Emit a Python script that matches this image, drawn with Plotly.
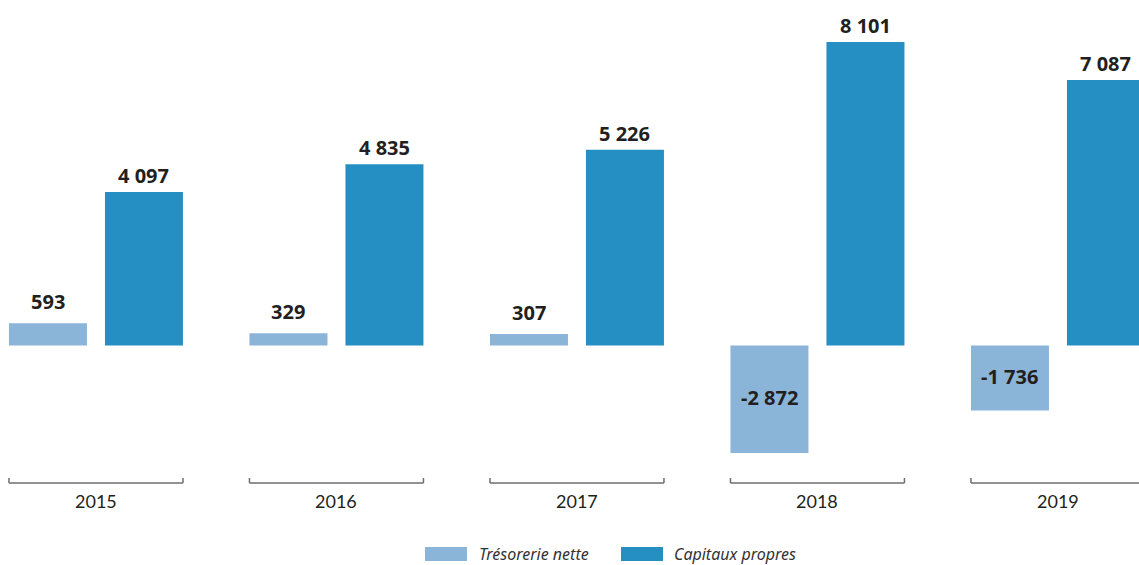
import plotly.graph_objects as go

years = ["2015", "2016", "2017", "2018", "2019"]
tresorerie = [593, 329, 307, -2872, -1736]
capitaux = [4097, 4835, 5226, 8101, 7087]
labels_tresorerie = ["593", "329", "307", "-2 872", "-1 736"]
labels_capitaux = ["4 097", "4 835", "5 226", "8 101", "7 087"]
series_names = ["Trésorerie nette", "Capitaux propres"]

LIGHT = "#8AB4D8"
DARK = "#258FC3"
TEXT = "#231F20"
W, H = 1139, 565
PLOT_H = 483  # plot area height in px (margin b = H - PLOT_H)

fig = go.Figure()
fig.add_trace(go.Bar(x=years, y=tresorerie, name=series_names[0],
                     marker=dict(color=LIGHT, line=dict(width=0))))
fig.add_trace(go.Bar(x=years, y=capitaux, name=series_names[1],
                     marker=dict(color=DARK, line=dict(width=0))))

annotations = []
shapes = []
value_font = dict(family="Noto Sans", size=20, color=TEXT)

for i, yr in enumerate(years):
    # value labels (category index used as x position)
    for vals, labs, dx, lift in ((tresorerie, labels_tresorerie, -48, 6),
                                 (capitaux, labels_capitaux, 48, 1)):
        v = vals[i]
        if v >= 0:
            annotations.append(dict(x=i, y=v, xref="x", yref="y", text=f"<b>{labs[i]}</b>",
                                    showarrow=False, xshift=dx, yanchor="bottom", yshift=lift,
                                    font=value_font))
        else:
            annotations.append(dict(x=i, y=v / 2, xref="x", yref="y", text=f"<b>{labs[i]}</b>",
                                    showarrow=False, xshift=dx, yanchor="middle", yshift=2,
                                    font=value_font))
    # bracket under each year group
    half = 87 / 240.5
    gray = dict(color="#6D6E71", width=1.5)
    shapes.append(dict(type="line", xref="x", yref="paper", x0=i - half, x1=i + half,
                       y0=0, y1=0, line=gray))
    for xe in (i - half, i + half):
        shapes.append(dict(type="line", xref="x", yref="paper", x0=xe, x1=xe,
                           y0=0, y1=5 / PLOT_H, line=gray))
    # year label
    annotations.append(dict(x=i, y=0, xref="x", yref="paper", text=yr, showarrow=False,
                            yanchor="top", yshift=-5,
                            font=dict(family="Lato", size=18, color=TEXT)))

# legend drawn as swatches + italic text
def py(p):
    return (PLOT_H - p) / PLOT_H

for (x0, x1, tx), name, col in zip(((425, 467, 477), (621, 663, 672)), series_names, (LIGHT, DARK)):
    shapes.append(dict(type="rect", xref="paper", yref="paper", x0=x0 / W, x1=x1 / W,
                       y0=py(561), y1=py(547), fillcolor=col, line=dict(width=0)))
    annotations.append(dict(x=tx / W, y=py(554), xref="paper", yref="paper", text=f"<i>{name}</i>",
                            showarrow=False, xanchor="left", yanchor="middle",
                            font=dict(family="Noto Sans", size=16, color="#333333")))

fig.update_layout(
    width=W, height=H,
    margin=dict(l=0, r=0, t=0, b=H - PLOT_H),
    paper_bgcolor="white", plot_bgcolor="white",
    barmode="group", bargap=0.2017, bargroupgap=0.1875,
    showlegend=False, hovermode=False,
    xaxis=dict(type="category", range=[-0.399, 4.337], showticklabels=False,
               showgrid=False, zeroline=False, showline=False, ticks=""),
    yaxis=dict(range=[-3670, 9221], showticklabels=False, showgrid=False,
               zeroline=False, showline=False, ticks=""),
    annotations=annotations, shapes=shapes,
)

fig.write_html("out.html", config={"displayModeBar": False})
